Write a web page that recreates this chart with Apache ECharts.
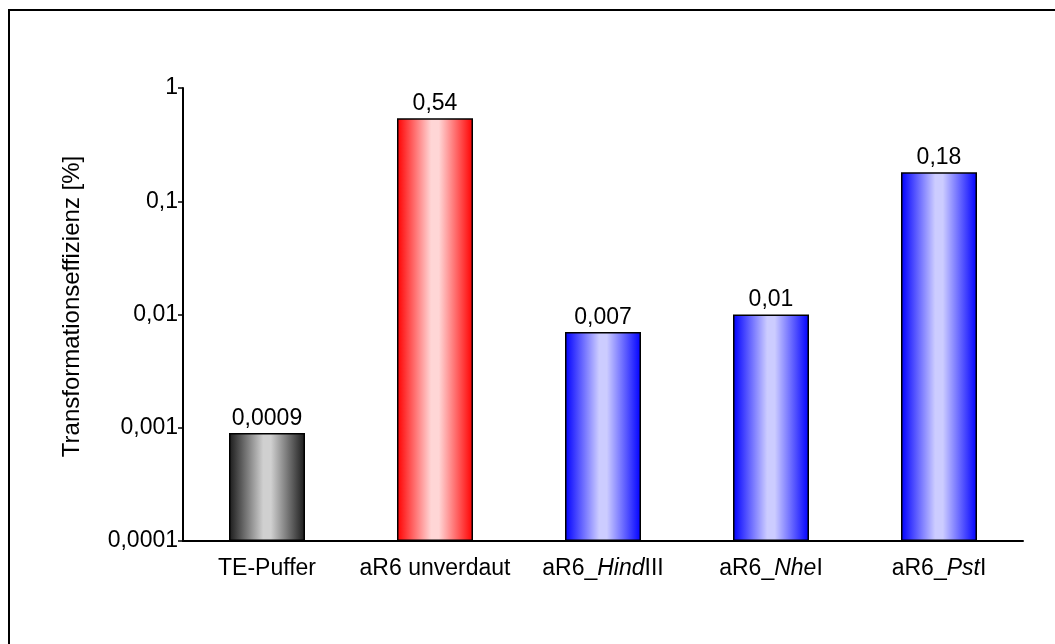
<!DOCTYPE html>
<html>
<head>
<meta charset="utf-8">
<script src="https://cdn.jsdelivr.net/npm/echarts@6/dist/echarts.min.js"></script>
<style>html,body{margin:0;padding:0;background:#fff}#c{width:1055px;height:644px}</style>
</head>
<body>
<div id="c"></div>
<script>
const categories = ['TE-Puffer', 'aR6 unverdaut', 'aR6_{i|Hind}III', 'aR6_{i|Nhe}I', 'aR6_{i|Pst}I'];
const values = [0.0009, 0.54, 0.007, 0.01, 0.18];
const valueLabels = ['0,0009', '0,54', '0,007', '0,01', '0,18'];
const colorGroups = ['gray', 'red', 'blue', 'blue', 'blue'];
const yTickValues = [0.0001, 0.001, 0.01, 0.1, 1];
const yTickLabels = ['0,0001', '0,001', '0,01', '0,1', '1'];

function grad(edge, mid) {
  return {
    type: 'linear', x: 0, y: 0, x2: 1, y2: 0,
    colorStops: [
      {offset: 0, color: edge},
      {offset: 0.45, color: mid},
      {offset: 0.55, color: mid},
      {offset: 1, color: edge}
    ]
  };
}
const palettes = {
  gray: grad('#1a1a1a', '#d0d0d0'),
  red: grad('#ff0000', '#ffd6d6'),
  blue: grad('#0000ff', '#ccccff')
};

// bars are drawn on a linear axis of decades above the 0,0001 baseline (log10 scale)
const logMin = Math.log10(yTickValues[0]);
const logMax = Math.log10(yTickValues[yTickValues.length - 1]);
const decades = v => Math.log10(v) - logMin;

const chart = echarts.init(document.getElementById('c'));
const font = 'Liberation Sans, Arial, sans-serif';
const fs = 23;
chart.setOption({
  animation: false,
  graphic: [{
    type: 'rect', shape: {x: 9, y: 10, width: 1200, height: 1000},
    style: {fill: 'none', stroke: '#000', lineWidth: 2}, silent: true
  }],
  grid: {left: 183, right: 32, top: 88, bottom: 103},
  xAxis: {
    type: 'category',
    data: categories,
    axisLine: {onZero: false, lineStyle: {color: '#000', width: 2}},
    axisTick: {show: false},
    axisLabel: {
      interval: 0,
      hideOverlap: false,
      margin: 16,
      color: '#000',
      fontFamily: font,
      fontSize: fs,
      formatter: v => v,
      rich: {i: {fontStyle: 'italic', fontSize: fs, fontFamily: font, color: '#000'}}
    }
  },
  yAxis: {
    type: 'value',
    min: 0,
    max: logMax - logMin,
    interval: 1,
    name: 'Transformationseffizienz [%]',
    nameLocation: 'middle',
    nameGap: 99,
    nameRotate: 90,
    nameTextStyle: {color: '#000', fontFamily: font, fontSize: 24, padding: [0, 0, 0, 16]},
    axisLine: {show: true, lineStyle: {color: '#000', width: 2}},
    axisTick: {show: true, length: 5, lineStyle: {color: '#000', width: 1.5}},
    splitLine: {show: false},
    axisLabel: {
      color: '#000', fontFamily: font, fontSize: fs, margin: 5,
      formatter: v => {
        const i = yTickValues.findIndex(t => Math.abs(decades(t) - v) < 1e-6);
        return i >= 0 ? yTickLabels[i] : '';
      }
    }
  },
  series: [{
    type: 'bar',
    barWidth: 76,
    data: values.map((v, i) => ({
      value: decades(v),
      itemStyle: {color: palettes[colorGroups[i]], borderColor: '#000', borderWidth: 1.5}
    })),
    label: {
      show: true, position: 'top', distance: 3,
      color: '#000', fontFamily: font, fontSize: fs,
      formatter: p => valueLabels[p.dataIndex]
    }
  }]
});
</script>
</body>
</html>
